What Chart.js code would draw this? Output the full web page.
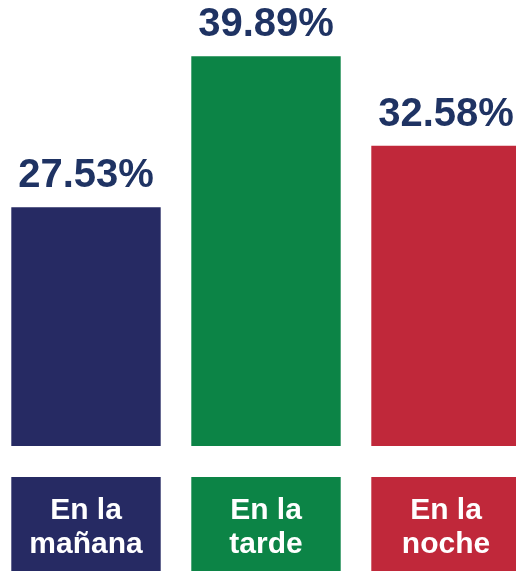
<!DOCTYPE html>
<html>
<head>
<meta charset="utf-8">
<script src="https://cdn.jsdelivr.net/npm/chart.js@4/dist/chart.umd.min.js"></script>
<style>
  html, body { margin: 0; padding: 0; background: #fff; overflow: hidden; }
  #wrap { position: absolute; left: -4px; top: 0; width: 540px; height: 571px; }
</style>
</head>
<body>
<div id="wrap"><canvas id="myChart" width="540" height="571"></canvas></div>
<script>
// datos
const categorias = [["En la", "mañana"], ["En la", "tarde"], ["En la", "noche"]];
const valores = [27.53, 39.89, 32.58];
const colores = ['#262a63', '#0c8446', '#c0283a'];
const colorTexto = '#1f3363';

// etiquetas de valor y cajas de categoria
const etiquetas = {
  id: 'etiquetas',
  afterDatasetsDraw(chart) {
    const ctx = chart.ctx;
    const meta = chart.getDatasetMeta(0);
    ctx.save();
    meta.data.forEach((bar, i) => {
      // valor encima de la barra
      ctx.fillStyle = colorTexto;
      ctx.font = 'bold 40px "Liberation Sans", Arial, sans-serif';
      ctx.textAlign = 'center';
      ctx.textBaseline = 'alphabetic';
      ctx.fillText(valores[i].toFixed(2) + '%', bar.x, bar.y - 20);

      // caja de la categoria
      const w = bar.width;
      const top = 477, alto = 94;
      ctx.fillStyle = colores[i];
      ctx.fillRect(bar.x - w / 2, top, w, alto);
      ctx.fillStyle = '#ffffff';
      ctx.font = 'bold 30px "Liberation Sans", Arial, sans-serif';
      ctx.fillText(categorias[i][0], bar.x, 519);
      ctx.fillText(categorias[i][1], bar.x, 553);
    });
    ctx.restore();
  }
};

const ctx = document.getElementById('myChart');
const myChart = new Chart(ctx, {
  type: 'bar',
  data: {
    labels: categorias,
    datasets: [{
      data: valores,
      backgroundColor: colores,
      borderWidth: 0,
      barPercentage: 0.83,
      categoryPercentage: 1
    }]
  },
  options: {
    responsive: false,
    devicePixelRatio: 1,
    animation: false,
    layout: { padding: { top: 0, bottom: 125, left: 0, right: 0 } },
    plugins: {
      legend: { display: false },
      tooltip: { enabled: false }
    },
    scales: {
      x: { display: false },
      y: { display: false, min: 8, max: 44.5 }
    }
  },
  plugins: [etiquetas]
});
</script>
</body>
</html>
